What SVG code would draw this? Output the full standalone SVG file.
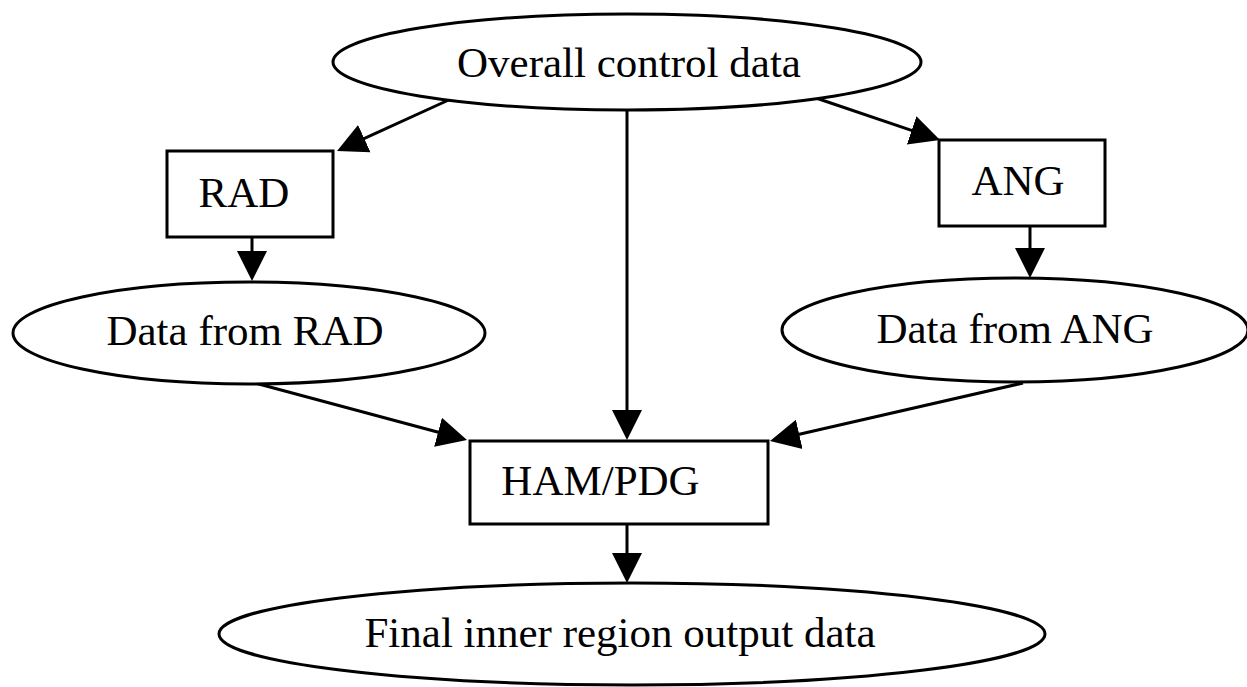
<svg xmlns="http://www.w3.org/2000/svg" width="1247" height="687" viewBox="0 0 1247 687">
<style>
.shape{fill:#fff;stroke:#000;stroke-width:3}
.lbl{font-family:"Liberation Serif","Times New Roman",serif;font-size:43px;fill:#000;text-anchor:middle}
.edge{stroke:#000;stroke-width:3;fill:none}
</style>
<defs>
<marker id="ah" markerUnits="userSpaceOnUse" markerWidth="32" markerHeight="32" refX="10" refY="15" orient="auto" viewBox="0 0 32 30">
<path d="M0,0 L30,15 L0,30 z" fill="#000"/>
</marker>
</defs>
<rect width="1247" height="687" fill="#fff"/>
<g id="connectors">
<line class="edge" x1="453" y1="98" x2="355.2" y2="142.7" marker-end="url(#ah)"/>
<line class="edge" x1="813" y1="97" x2="921.1" y2="133.6" marker-end="url(#ah)"/>
<line class="edge" x1="627" y1="110" x2="627" y2="420" marker-end="url(#ah)"/>
<line class="edge" x1="252" y1="237" x2="252" y2="261" marker-end="url(#ah)"/>
<line class="edge" x1="1030" y1="226" x2="1030" y2="258" marker-end="url(#ah)"/>
<line class="edge" x1="255" y1="383" x2="447.7" y2="434.8" marker-end="url(#ah)"/>
<line class="edge" x1="1023" y1="383" x2="789.5" y2="436.5" marker-end="url(#ah)"/>
<line class="edge" x1="627" y1="524" x2="627" y2="563" marker-end="url(#ah)"/>
</g>
<g id="node-overall">
<ellipse class="shape" cx="627" cy="62" rx="294" ry="48"/>
<text class="lbl" x="629" y="77">Overall control data</text>
</g>
<g id="node-rad">
<rect class="shape" x="167" y="151" width="166" height="86"/>
<text class="lbl" x="244" y="207">RAD</text>
</g>
<g id="node-ang">
<rect class="shape" x="939" y="140" width="166" height="86"/>
<text class="lbl" x="1018" y="195">ANG</text>
</g>
<g id="node-data-rad">
<ellipse class="shape" cx="249" cy="333" rx="236" ry="51"/>
<text class="lbl" x="245" y="345">Data from RAD</text>
</g>
<g id="node-data-ang">
<ellipse class="shape" cx="1015" cy="330" rx="233" ry="52"/>
<text class="lbl" x="1015" y="343">Data from ANG</text>
</g>
<g id="node-ham">
<rect class="shape" x="470" y="441" width="298" height="83"/>
<text class="lbl" x="600.5" y="495">HAM/PDG</text>
</g>
<g id="node-final">
<ellipse class="shape" cx="632" cy="634" rx="413" ry="51"/>
<text class="lbl" x="620" y="647">Final inner region output data</text>
</g>
</svg>
